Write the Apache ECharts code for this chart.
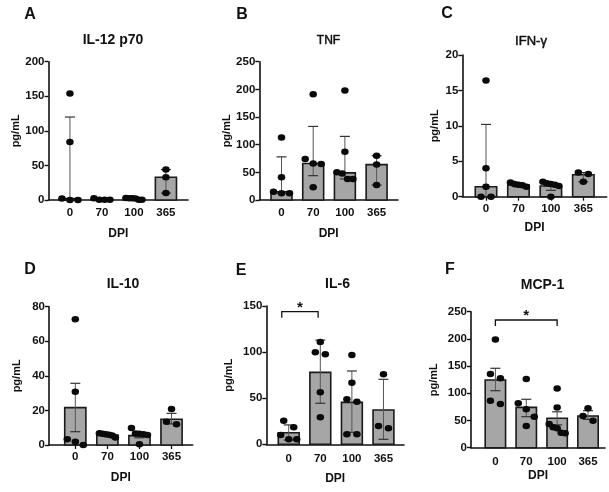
<!DOCTYPE html>
<html>
<head>
<meta charset="utf-8">
<script src="https://cdn.jsdelivr.net/npm/echarts@6/dist/echarts.min.js"></script>
<style>
html, body { margin: 0; padding: 0; background: #fff; }
#main { width: 609px; height: 492px; }
</style>
</head>
<body>
<div id="main"></div>
<script>
// 时间点 (DPI)
var cats = ['0', '70', '100', '365'];

// A  IL-12 p70
var il12Bar  = [2, 0.3, 2, 33];
var il12Low  = [0, 0.3, 0.5, 10];
var il12High = [120, 1.5, 2.5, 44];
var il12Pts  = [[154, 84, 2, 0, 0], [2.5, 0.3, 0.3, 0.3], [3, 2.5, 2.5, 2, 0.5, 0.5], [44, 33, 10]];

// B  TNF
var tnfBar  = [15, 66, 49, 64];
var tnfLow  = [12, 44, 38, 27];
var tnfHigh = [78, 133, 115, 80];
var tnfPts  = [[113, 41, 15, 12, 12], [191, 74, 66, 65, 23], [198, 87, 50, 48, 38, 38], [80, 64, 27]];

// C  IFN-γ
var ifnBar  = [1.4, 1.65, 1.5, 3.1];
var ifnLow  = [0, 1.4, 0.9, 2.1];
var ifnHigh = [10.2, 1.9, 1.9, 3.4];
var ifnPts  = [[16.4, 4.0, 1.4, 0, 0], [2.0, 1.8, 1.7, 1.6, 1.4], [2.1, 1.9, 1.8, 1.7, 1.5, 0], [3.4, 3.2, 2.1]];

// D  IL-10
var il10Bar  = [21.6, 5.8, 5.4, 14.9];
var il10Low  = [7.7, 5.0, 4.2, 12.2];
var il10High = [35.7, 6.6, 6.8, 18.3];
var il10Pts  = [[72.7, 30.8, 3.3, 1.9, 0], [6.8, 6.5, 6.2, 5.9, 5.5, 4.3], [9.8, 6.6, 6.5, 6.2, 5.8, 0.4], [20.8, 13.5, 12]];

// E  IL-6
var il6Bar  = [12.6, 78, 45.5, 37.2];
var il6Low  = [4.6, 44.5, 13, 5.4];
var il6High = [21, 113, 79.5, 70.5];
var il6Pts  = [[25.6, 18.4, 10, 5.4, 5.4], [111, 99.8, 97.6, 56.4, 29.3], [96.9, 66.8, 48.8, 46.2, 10.8, 10.8], [76, 19.8, 17.3]];
var il6Sig  = [[-0.22, 0.93, 143.8, 137.3]];

// F  MCP-1
var mcpBar  = [124.4, 74.2, 54, 58.3];
var mcpLow  = [104.8, 57, 42, 52];
var mcpHigh = [146, 89, 66, 68];
var mcpPts  = [[199, 135.5, 127.6, 86.4, 80.3], [126.3, 81.6, 70.6, 57, 39.9], [109, 74, 43.6, 37.5, 35.6, 27.6, 26.4], [72.4, 58.3, 49.6]];
var mcpSig  = [[0, 2, 234.7, 223.7]];

// 各面板的布局
var panels = [
    {letter: 'A', title: 'IL-12 p70', tFont: 'bold 14px', bar: il12Bar, low: il12Low, high: il12High, pts: il12Pts, sig: null,
        box: [48.5, 61.7, 188, 200], yMax: 200, yStep: 50, xr: [-0.67, 3.69],
        letterAt: [30, 14.5], titleAt: [113, 40.5], gapY: 27, gapX: 28, margin: 7, ticks: false},
    {letter: 'B', title: 'TNF', tFont: '12px', bar: tnfBar, low: tnfLow, high: tnfHigh, pts: tnfPts, sig: null,
        box: [259.3, 61.7, 398, 200], yMax: 250, yStep: 50, xr: [-0.70, 3.675],
        letterAt: [242, 15], titleAt: [328.5, 40.5], gapY: 27, gapX: 28, margin: 7, ticks: false},
    {letter: 'C', title: 'IFN-γ', tFont: '13px', bar: ifnBar, low: ifnLow, high: ifnHigh, pts: ifnPts, sig: null,
        box: [462.3, 55, 606.7, 196.7], yMax: 20, yStep: 5, xr: [-0.73, 3.72],
        letterAt: [447, 13.5], titleAt: [531, 41], gapY: 22, gapX: 25, margin: 6, ticks: true},
    {letter: 'D', title: 'IL-10', tFont: 'bold 14px', bar: il10Bar, low: il10Low, high: il10High, pts: il10Pts, sig: null,
        box: [49, 306.7, 192.7, 445], yMax: 80, yStep: 20, xr: [-0.82, 3.66],
        letterAt: [30, 270], titleAt: [123, 284.5], gapY: 27, gapX: 27, margin: 6, ticks: true},
    {letter: 'E', title: 'IL-6', tFont: 'bold 14px', bar: il6Bar, low: il6Low, high: il6High, pts: il6Pts, sig: il6Sig,
        box: [266.3, 306, 404, 444.3], yMax: 150, yStep: 50, xr: [-0.71, 3.65],
        letterAt: [241, 271], titleAt: [337.5, 284], gapY: 32, gapX: 28, margin: 9, ticks: false},
    {letter: 'F', title: 'MCP-1', tFont: 'bold 14px', bar: mcpBar, low: mcpLow, high: mcpHigh, pts: mcpPts, sig: mcpSig,
        box: [471, 311.7, 605, 447.7], yMax: 250, yStep: 50, xr: [-0.79, 3.55],
        letterAt: [450, 270], titleAt: [542.5, 285], gapY: 32, gapX: 22, margin: 8, ticks: false}
];

var FONT = '"Liberation Sans", Arial, sans-serif';

// 把同一组里 y 值接近的点左右摊开（像 Prism 那样）
function spread(vals, pxPerY) {
    var sorted = vals.slice().sort(function (a, b) { return b - a; });
    var groups = [[sorted[0]]];
    for (var k = 1; k < sorted.length; k++) {
        var g = groups[groups.length - 1];
        if ((g[g.length - 1] - sorted[k]) * pxPerY < 7.5) {
            g.push(sorted[k]);
        } else {
            groups.push([sorted[k]]);
        }
    }
    var out = [];
    groups.forEach(function (g) {
        var n = g.length, s = n > 1 ? Math.min(10, 16 / (n - 1)) : 0;
        g.forEach(function (v, j) {
            out.push([(j - (n - 1) / 2) * s, v]);
        });
    });
    return out;
}

function renderBar(params, api) {
    var x = api.value(0);
    var top = api.coord([x, api.value(1)]);
    var base = api.coord([x, 0]);
    var bw = 0.66 * (api.coord([1, 0])[0] - api.coord([0, 0])[0]);
    return {
        type: 'rect',
        shape: {x: top[0] - bw / 2, y: top[1], width: bw, height: base[1] - top[1]},
        style: {fill: '#a6a6a6', stroke: '#1a1a1a', lineWidth: 1.6}
    };
}

function renderErr(params, api) {
    var x = api.value(0);
    var lo = api.coord([x, api.value(1)]);
    var hi = api.coord([x, api.value(2)]);
    var c = 5;
    return {
        type: 'group',
        children: [
            {type: 'line', shape: {x1: lo[0], y1: lo[1], x2: hi[0], y2: hi[1]}, style: {stroke: '#555', lineWidth: 1}},
            {type: 'line', shape: {x1: hi[0] - c, y1: hi[1], x2: hi[0] + c, y2: hi[1]}, style: {stroke: '#333', lineWidth: 1.2}},
            {type: 'line', shape: {x1: lo[0] - c, y1: lo[1], x2: lo[0] + c, y2: lo[1]}, style: {stroke: '#333', lineWidth: 1.2}}
        ]
    };
}

function renderSig(params, api) {
    var a = api.coord([api.value(0), api.value(2)]);
    var b = api.coord([api.value(1), api.value(2)]);
    var end = api.coord([api.value(0), api.value(3)]);
    return {
        type: 'group',
        children: [
            {type: 'polyline', shape: {points: [[a[0], end[1]], [a[0], a[1]], [b[0], b[1]], [b[0], end[1]]]},
                style: {stroke: '#111', lineWidth: 1.3, fill: null}},
            {type: 'text', x: (a[0] + b[0]) / 2, y: a[1] - 4,
                style: {text: '*', font: 'bold 15px ' + FONT, fill: '#111',
                    align: 'center', verticalAlign: 'middle', textAlign: 'center', textVerticalAlign: 'middle'}}
        ]
    };
}

var option = {animation: false, grid: [], xAxis: [], yAxis: [], series: [], graphic: []};

panels.forEach(function (p, i) {
    var w = p.box[2] - p.box[0], h = p.box[3] - p.box[1];
    var pxPerX = w / (p.xr[1] - p.xr[0]);
    var pxPerY = h / p.yMax;

    option.grid.push({left: p.box[0], top: p.box[1], width: w, height: h});

    option.xAxis.push({
        type: 'value', gridIndex: i, min: p.xr[0], max: p.xr[1],
        splitLine: {show: false},
        axisLine: {onZero: false, lineStyle: {color: '#111', width: 1.6}},
        axisTick: {show: p.ticks, customValues: [0, 1, 2, 3], length: 4, lineStyle: {color: '#111', width: 1.3}},
        axisLabel: {customValues: [0, 1, 2, 3], margin: p.margin, color: '#111', fontFamily: FONT, fontWeight: 'bold', fontSize: 11.5,
            formatter: function (v) { return cats[Math.round(v)]; }},
        name: 'DPI', nameLocation: 'middle', nameGap: p.gapX,
        nameTextStyle: {color: '#111', fontFamily: FONT, fontWeight: 'bold', fontSize: 12}
    });

    option.yAxis.push({
        type: 'value', gridIndex: i, min: 0, max: p.yMax, interval: p.yStep,
        splitLine: {show: false},
        axisLine: {show: true, onZero: false, lineStyle: {color: '#111', width: 1.6}},
        axisTick: {show: true, length: 4, lineStyle: {color: '#111', width: 1.4}},
        axisLabel: {margin: 4, color: '#111', fontFamily: FONT, fontWeight: 'bold', fontSize: 11.5},
        name: 'pg/mL', nameLocation: 'middle', nameGap: p.gapY, nameRotate: 90,
        nameTextStyle: {color: '#111', fontFamily: FONT, fontWeight: 'bold', fontSize: 11}
    });

    option.series.push({
        type: 'custom', xAxisIndex: i, yAxisIndex: i, z: 1,
        renderItem: renderBar, encode: {x: 0, y: 1},
        data: p.bar.map(function (v, k) { return [k, v]; })
    });
    option.series.push({
        type: 'custom', xAxisIndex: i, yAxisIndex: i, z: 2,
        renderItem: renderErr, encode: {x: 0, y: [1, 2]},
        data: p.low.map(function (v, k) { return [k, v, p.high[k]]; })
    });

    var dots = [];
    p.pts.forEach(function (vals, k) {
        spread(vals, pxPerY).forEach(function (d) {
            dots.push([k + d[0] / pxPerX, d[1]]);
        });
    });
    option.series.push({
        type: 'scatter', xAxisIndex: i, yAxisIndex: i, z: 3,
        symbol: 'circle', symbolSize: [7.5, 6.5],
        itemStyle: {color: '#0a0a0a', opacity: 1},
        data: dots
    });

    if (p.sig) {
        option.series.push({
            type: 'custom', xAxisIndex: i, yAxisIndex: i, z: 4, clip: false,
            renderItem: renderSig, encode: {x: [0, 1], y: [2, 3]},
            data: p.sig
        });
    }

    // 面板字母和标题
    option.graphic.push({
        type: 'text', x: p.letterAt[0], y: p.letterAt[1],
        style: {text: p.letter, font: 'bold 16px ' + FONT, fill: '#111',
            align: 'center', verticalAlign: 'middle', textAlign: 'center', textVerticalAlign: 'middle'}
    });
    var isBold = p.tFont.indexOf('bold') === 0;
    option.graphic.push({
        type: 'text', x: p.titleAt[0], y: p.titleAt[1],
        style: {text: p.title, font: p.tFont + ' ' + FONT, fill: '#111',
            stroke: isBold ? null : '#111', lineWidth: isBold ? 0 : 0.5,
            align: 'center', verticalAlign: 'middle', textAlign: 'center', textVerticalAlign: 'middle'}
    });
});

var myChart = echarts.init(document.getElementById('main'));
myChart.setOption(option);
</script>
</body>
</html>
